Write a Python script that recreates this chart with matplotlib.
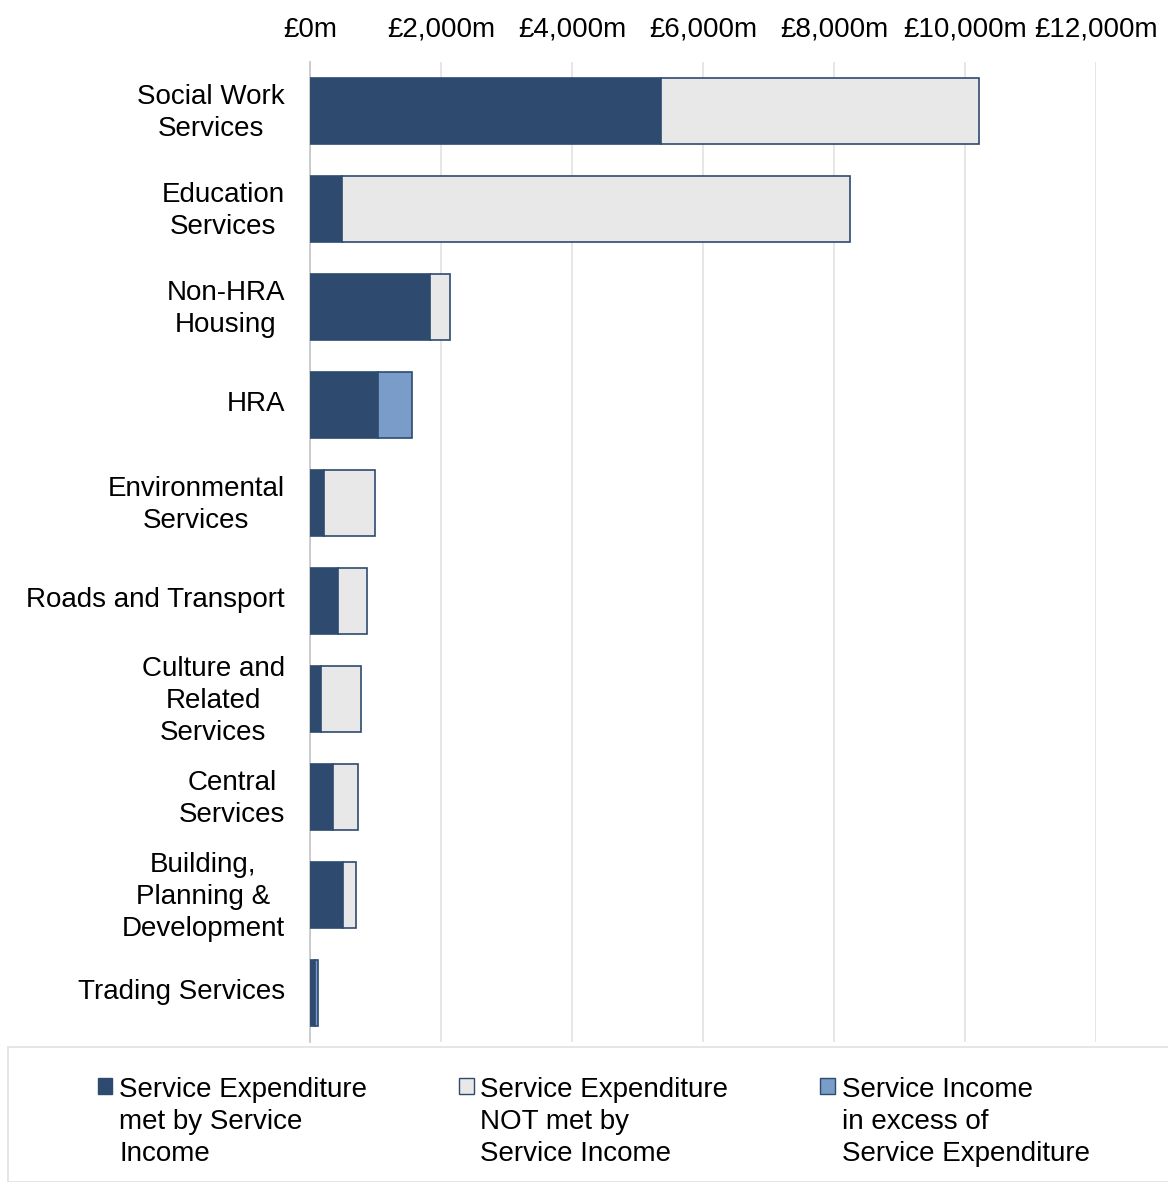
import matplotlib.pyplot as plt
from matplotlib.patches import Rectangle
from matplotlib.legend_handler import HandlerPatch
from matplotlib.ticker import FuncFormatter
from matplotlib.transforms import ScaledTranslation

plt.rcParams['font.family'] = ['Liberation Sans', 'DejaVu Sans']

# servicios y valores en £m
servicios = ["Social Work\nServices", "Education\nServices", "Non-HRA\nHousing", "HRA",
             "Environmental\nServices", "Roads and Transport", "Culture and\nRelated\nServices",
             "Central\nServices", "Building,\nPlanning &\nDevelopment", "Trading Services"]
gasto_cubierto = [5360, 490, 1830, 1040, 215, 430, 170, 350, 505, 80]
gasto_no_cubierto = [4855, 7755, 310, 0, 780, 440, 610, 385, 200, 0]
ingreso_exceso = [0, 0, 0, 520, 0, 0, 0, 0, 0, 45]

etiquetas_leyenda = ["Service Expenditure\nmet by Service\nIncome",
                     "Service Expenditure\nNOT met by\nService Income",
                     "Service Income\nin excess of\nService Expenditure"]

azul_oscuro = "#2E4A6F"
gris_claro = "#E8E8E8"
azul_claro = "#7A9CC8"
tam = 20

fig = plt.figure(figsize=(11.68, 11.82), dpi=100)
ax = fig.add_axes([310/1168, 1 - 1042/1182, (1096 - 310)/1168, (1042 - 62)/1182])

pos = range(len(servicios))
alto = 0.68
b1 = ax.barh(pos, gasto_cubierto, height=alto, color=azul_oscuro, edgecolor=azul_oscuro, linewidth=1.2, zorder=3)
b2 = ax.barh(pos, gasto_no_cubierto, left=gasto_cubierto, height=alto, color=gris_claro,
             edgecolor=azul_oscuro, linewidth=1.2, zorder=3)
b3 = ax.barh(pos, ingreso_exceso, left=gasto_cubierto, height=alto, color=azul_claro,
             edgecolor=azul_oscuro, linewidth=1.2, zorder=3)
# quitar el borde de los segmentos vacios
for i in pos:
    if gasto_no_cubierto[i] == 0:
        b2[i].set_linewidth(0)
    if ingreso_exceso[i] == 0:
        b3[i].set_linewidth(0)

ax.set_xlim(0, 12000)
ax.set_ylim(9.5, -0.5)
ax.set_xticks(range(0, 12001, 2000))
ax.xaxis.set_major_formatter(FuncFormatter(lambda v, p: "£{:,.0f}m".format(v)))
ax.xaxis.tick_top()
ax.tick_params(axis='x', length=0, pad=14, labelsize=tam)
ax.tick_params(axis='y', length=0, pad=18, labelsize=tam)
ax.set_yticks(list(pos))
ax.set_yticklabels(servicios)
# subir un poco las etiquetas de las categorias
subir = ScaledTranslation(0, 4/100, fig.dpi_scale_trans)
for t in ax.get_yticklabels():
    t.set_multialignment('center')
    t.set_linespacing(1.3)
    t.set_transform(t.get_transform() + subir)

ax.grid(axis='x', color='#E4E4E4', linewidth=1.3, zorder=0)
for lado in ['top', 'right', 'bottom']:
    ax.spines[lado].set_visible(False)
ax.spines['left'].set_color('#C8C8C8')
ax.spines['left'].set_linewidth(1.3)

# caja de la leyenda
fig.patches.append(Rectangle((8/1168, 0), 1.0, (1182 - 1047)/1182, transform=fig.transFigure,
                             facecolor='white', edgecolor='#E4E4E4', linewidth=1.3))


# el cuadrito de la leyenda va a la altura de la primera linea
def cuadro_arriba(legend, orig_handle, xdescent, ydescent, width, height, fontsize):
    return Rectangle((-xdescent, -ydescent + 1.3 * fontsize), width, height)


manijas = [Rectangle((0, 0), 1, 1, facecolor=c, edgecolor=azul_oscuro, linewidth=1)
           for c in [azul_oscuro, gris_claro, azul_claro]]
ley = fig.legend(manijas, etiquetas_leyenda, loc='upper left', bbox_to_anchor=(98/1168, 1 - 1077/1182),
                 ncol=3, frameon=False, fontsize=tam, handlelength=0.52, handleheight=0.52,
                 handletextpad=0.25, columnspacing=3.3, borderpad=0, borderaxespad=0,
                 handler_map={Rectangle: HandlerPatch(patch_func=cuadro_arriba)})
for t in ley.get_texts():
    t.set_linespacing(1.3)

fig.savefig("out.png", dpi=100)
